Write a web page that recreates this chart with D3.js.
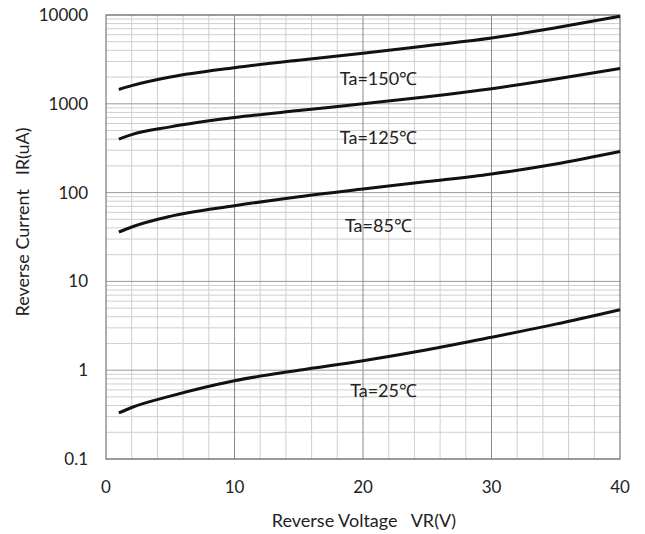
<!DOCTYPE html>
<html>
<head>
  <meta charset="utf-8">
  <script src="https://d3js.org/d3.v7.min.js"></script>
  <style>
    body { margin: 0; background: #fff; }
    text { font-family: Lato, "Open Sans", sans-serif; fill: #222; }
  </style>
</head>
<body>
<script>
const voltage = [1, 2, 5, 10, 15, 20, 25, 30, 35, 40];
const ir150 = [1450, 1600, 2000, 2550, 3100, 3700, 4500, 5500, 7200, 9700];
const ir125 = [400, 450, 550, 700, 840, 1000, 1200, 1480, 1900, 2500];
const ir85 = [36, 41, 54, 71, 90, 110, 133, 162, 210, 290];
const ir25 = [0.33, 0.38, 0.51, 0.76, 1.0, 1.28, 1.7, 2.35, 3.3, 4.8];
const seriesLabels = ['Ta=150℃', 'Ta=125℃', 'Ta=85℃', 'Ta=25℃'];
const labelPos = [[18.2, 1630], [18.2, 352], [18.6, 36], [19.0, 0.5]];
const xTicks = [0, 10, 20, 30, 40];
const yTicks = [0.1, 1, 10, 100, 1000, 10000];

const W = 645, H = 534;
const m = { left: 106, right: 25, top: 15, bottom: 75 };

const svg = d3.select('body').append('svg').attr('width', W).attr('height', H);

const x = d3.scaleLinear().domain([0, 40]).range([m.left, W - m.right]);
const y = d3.scaleLog().domain([0.1, 10000]).range([H - m.bottom, m.top]);

const g = svg.append('g');

// horizontal minor grid
const minorY = [];
for (let e = -1; e < 4; e++) for (let k = 2; k <= 9; k++) minorY.push(k * Math.pow(10, e));
g.selectAll('.hmin').data(minorY).enter().append('line')
  .attr('x1', x(0)).attr('x2', x(40))
  .attr('y1', d => y(d)).attr('y2', d => y(d))
  .attr('stroke', '#cfcfcf').attr('stroke-width', 1);

// vertical grid every 2 V
const gridX = d3.range(2, 40, 2);
g.selectAll('.vg').data(gridX).enter().append('line')
  .attr('y1', y(0.1)).attr('y2', y(10000))
  .attr('x1', d => x(d)).attr('x2', d => x(d))
  .attr('stroke', d => d % 10 === 0 ? '#8a8a8a' : '#cfcfcf').attr('stroke-width', 1);

// decade lines
g.selectAll('.hmaj').data(yTicks).enter().append('line')
  .attr('x1', x(0)).attr('x2', x(40))
  .attr('y1', d => y(d)).attr('y2', d => y(d))
  .attr('stroke', '#9a9a9a').attr('stroke-width', 1);

// frame
g.append('rect').attr('x', x(0)).attr('y', y(10000))
  .attr('width', x(40) - x(0)).attr('height', y(0.1) - y(10000))
  .attr('fill', 'none').attr('stroke', '#7a7a7a').attr('stroke-width', 1.2);

// curves
const line = d3.line().x((d, i) => x(voltage[i])).y(d => y(d)).curve(d3.curveMonotoneX);
[ir150, ir125, ir85, ir25].forEach(s => {
  g.append('path').datum(s).attr('d', line)
    .attr('fill', 'none').attr('stroke', '#111').attr('stroke-width', 3);
});

// series labels
g.selectAll('.lab').data(seriesLabels).enter().append('text')
  .attr('x', (d, i) => x(labelPos[i][0]))
  .attr('y', (d, i) => y(labelPos[i][1]))
  .attr('font-size', 18)
  .text(d => d);

// axes tick labels
svg.selectAll('.yt').data(yTicks).enter().append('text')
  .attr('x', 88).attr('y', d => y(d) + 6)
  .attr('text-anchor', 'end').attr('font-size', 17)
  .text(d => d3.format('~g')(d));

svg.selectAll('.xt').data(xTicks).enter().append('text')
  .attr('x', d => x(d)).attr('y', 493)
  .attr('text-anchor', 'middle').attr('font-size', 17)
  .text(d => d);

svg.append('text').attr('x', 364).attr('y', 527)
  .attr('text-anchor', 'middle').attr('font-size', 18)
  .attr('xml:space', 'preserve')
  .text('Reverse Voltage   VR(V)');

svg.append('text')
  .attr('transform', 'translate(29,222) rotate(-90)')
  .attr('text-anchor', 'middle').attr('font-size', 18)
  .attr('xml:space', 'preserve')
  .text('Reverse Current   IR(uA)');
</script>
</body>
</html>
